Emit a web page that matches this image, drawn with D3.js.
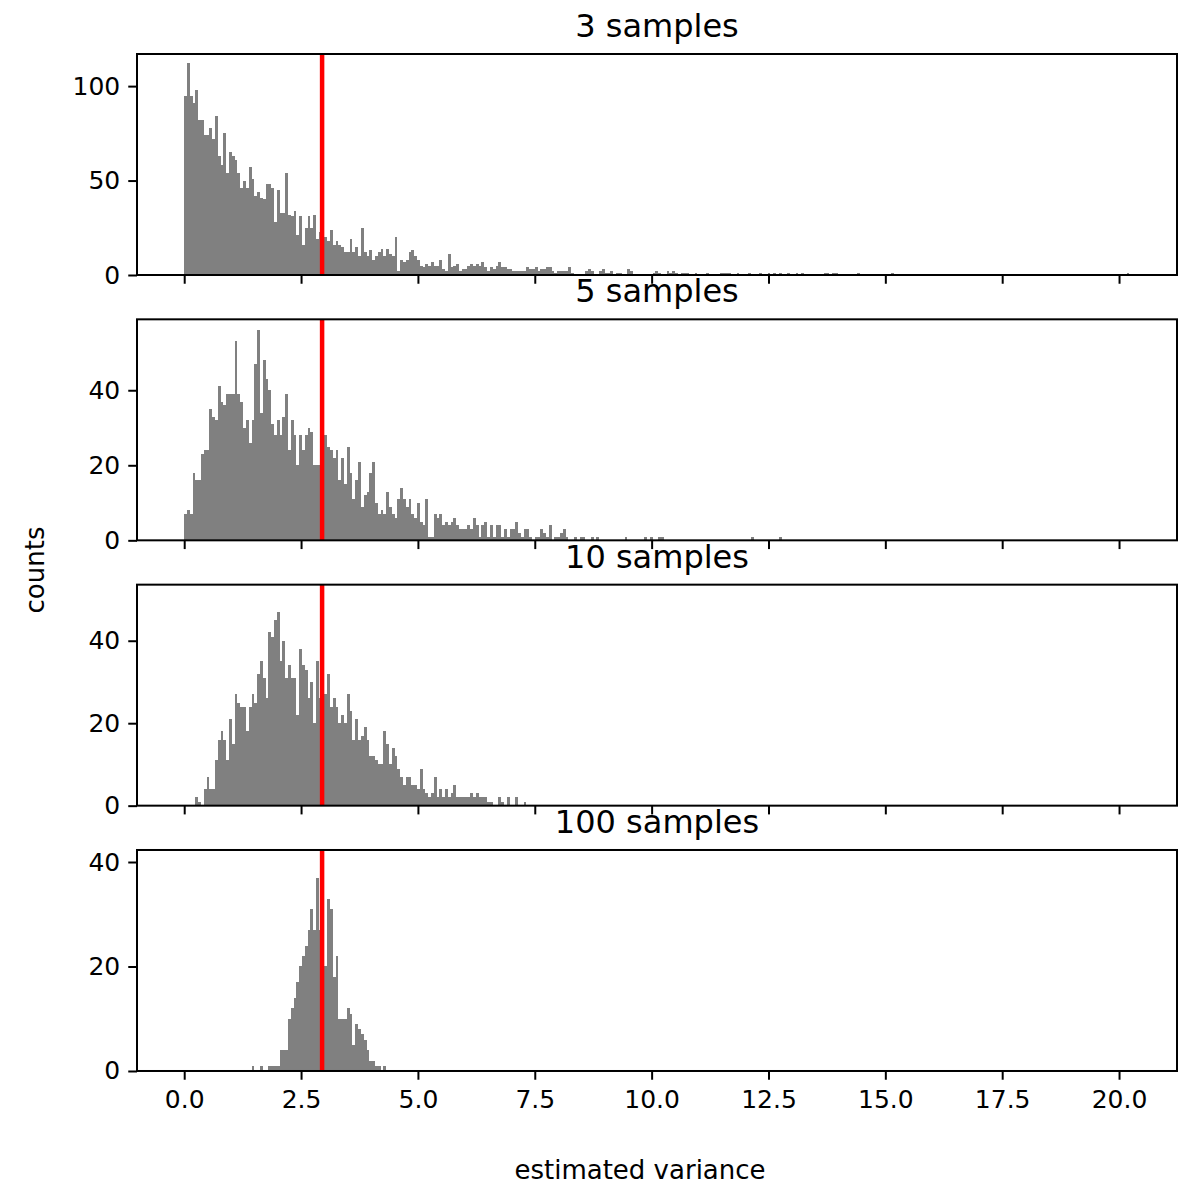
<!DOCTYPE html>
<meta charset="utf-8">
<style>
body {
  margin: 0;
  background-color: #ffffff;
}
text {
  font-family: "DejaVu Sans", sans-serif;
  fill: #000;
}
.tick line {
  stroke: #000;
  stroke-width: 2px;
}
.tick text {
  font-size: 25px;
}
.title {
  font-size: 32px;
}
.label {
  font-size: 26px;
}
</style>
<body>
<script src="https://d3js.org/d3.v7.min.js"></script>
<script>
  // histogram data, all panels share the same bin width
  var binWidth = 0.06;
  var titles = ["3 samples", "5 samples", "10 samples", "100 samples"];
  var firstEdge = [0, 0, 0.24, 1.44];

  var counts3 = [
    95,112,95,91,98,82,82,74,74,78,
    72,84,63,58,75,54,65,63,61,54,
    46,50,46,57,51,42,44,41,40,48,
    48,46,28,45,33,33,54,32,31,34,
    21,31,16,25,31,25,32,19,23,21,
    20,18,24,16,18,16,15,12,12,19,
    12,15,10,25,12,10,13,8,10,12,
    14,10,14,11,10,20,2,8,7,8,
    12,13,10,8,5,4,6,5,7,5,
    5,8,3,2,11,4,5,6,2,3,
    3,5,6,5,6,5,7,4,2,4,
    3,5,7,4,4,3,3,2,2,2,
    2,2,4,3,3,4,2,3,3,4,
    4,2,1,2,2,2,2,4,1,0,
    0,0,0,2,3,2,0,0,2,3,
    1,1,2,0,1,1,0,0,3,2,
    0,0,0,0,0,0,0,1,2,1,
    0,0,2,1,2,1,0,1,1,1,
    0,0,1,0,0,0,1,0,0,0,
    0,1,1,1,1,0,0,1,0,0,
    0,1,0,0,0,1,0,0,1,0,
    1,0,1,0,0,1,0,0,1,0,
    1,0,0,0,0,0,0,0,1,1,
    0,1,1,0,0,0,0,0,0,0,
    1,0,0,0,0,0,0,0,0,0,
    0,0,1,0,0,0,0,0,0,0,
    0,0,0,0,0,0,0,0,0,0,
    0,0,0,0,0,0,0,0,0,0,
    0,0,0,0,0,0,0,0,0,0,
    0,0,0,0,0,0,0,0,0,0,
    0,0,0,0,0,0,0,0,0,0,
    0,0,0,0,0,0,0,0,0,0,
    0,0,0,0,0,0,0,0,0,0,
    0,0,0,0,0,0,1
  ];

  var counts5 = [
    7,8,7,18,16,16,23,24,24,35,
    33,32,41,37,36,39,39,39,53,39,
    37,30,32,26,32,47,56,34,48,43,
    40,31,28,32,28,33,39,24,32,28,
    20,28,24,28,30,29,20,20,20,18,
    28,25,24,22,24,16,22,15,25,18,
    11,16,21,9,12,13,18,21,10,7,
    8,7,13,9,7,6,11,14,11,9,
    11,7,6,10,5,4,11,1,1,7,
    6,7,4,5,4,5,6,4,3,3,
    3,4,3,6,4,1,4,5,1,4,
    1,4,4,1,3,1,3,3,5,2,
    1,3,3,1,0,1,1,3,2,1,
    4,0,1,1,2,3,1,0,0,1,
    0,1,1,0,0,1,0,1,0,0,
    0,0,0,0,0,0,0,1,0,0,
    0,0,0,0,1,0,1,0,0,1,
    1,0,0,0,0,0,0,0,0,0,
    0,0,0,0,0,0,0,0,0,0,
    0,0,0,0,0,0,0,0,0,0,
    0,0,1,0,0,0,0,0,0,0,
    0,0,1
  ];

  var counts10 = [
    2,1,0,4,7,4,
    4,11,16,18,16,11,21,15,27,25,
    24,24,18,24,27,25,32,35,31,26,
    42,41,45,47,35,40,31,34,31,31,
    22,38,34,33,26,30,20,35,26,30,
    27,32,24,26,24,20,22,20,27,23,
    16,21,16,17,19,16,12,12,11,10,
    10,18,15,10,14,12,9,7,5,7,
    7,5,5,4,9,4,3,2,3,7,
    2,4,2,4,2,3,5,2,2,2,
    2,2,3,2,3,2,2,2,1,1,
    0,0,2,1,0,2,0,0,2,0,0,1
  ];

  var counts100 = [
    1,0,0,1,0,0,
    1,1,1,1,4,4,4,10,12,14,
    17,20,22,24,27,31,27,37,27,27,
    20,33,31,18,22,10,10,10,12,11,
    5,9,8,7,6,4,2,2,1,1,
    0,1
  ];

  var yTicks = [[0, 50, 100], [0, 20, 40], [0, 20, 40], [0, 20, 40]];
  var yMax = [117, 58.9, 53.6, 42.3];
  var xTicks = [0, 2.5, 5, 7.5, 10, 12.5, 15, 17.5, 20];
  var xExtent = [-1.01, 21.24];
  var trueVariance = 2.95;

  var chartConfig = {
    width: 1178,
    height: 1187,
    left: 137,
    right: 1177,
    top: 54,
    panelHeight: 221,
    panelStep: 265.33,
    tickSize: 8.75,
    barColor: "#808080",
    lineColor: "#ff0000"
  };

  var allCounts = [counts3, counts5, counts10, counts100];

  var svg = d3.select("body").append("svg")
      .attr("width", chartConfig.width)
      .attr("height", chartConfig.height);

  var x = d3.scaleLinear()
      .domain(xExtent)
      .range([chartConfig.left, chartConfig.right]);

  allCounts.forEach(function(counts, p) {
    var top = chartConfig.top + p * chartConfig.panelStep,
        h = chartConfig.panelHeight,
        last = p == allCounts.length - 1;

    var y = d3.scaleLinear()
        .domain([0, yMax[p]])
        .range([top + h, top]);

    var bins = counts.map(function(c, j) {
      return {x0: firstEdge[p] + j * binWidth, x1: firstEdge[p] + (j + 1) * binWidth, n: c};
    }).filter(function(d) { return d.n > 0; });

    var g = svg.append("g");

    // bars
    g.selectAll(".bar")
        .data(bins)
      .enter().append("rect")
        .attr("class", "bar")
        .attr("x", function(d) { return x(d.x0); })
        .attr("width", function(d) { return x(d.x1) - x(d.x0); })
        .attr("y", function(d) { return y(d.n); })
        .attr("height", function(d) { return y(0) - y(d.n); })
        .attr("fill", chartConfig.barColor)
        .attr("shape-rendering", "crispEdges");

    // reference line
    g.append("line")
        .attr("x1", x(trueVariance))
        .attr("x2", x(trueVariance))
        .attr("y1", top)
        .attr("y2", top + h)
        .attr("stroke", chartConfig.lineColor)
        .attr("stroke-width", 4.5);

    // axes
    var yAxis = g.append("g")
        .attr("transform", "translate(" + chartConfig.left + ",0)")
        .call(d3.axisLeft(y).tickValues(yTicks[p])
              .tickSize(chartConfig.tickSize).tickPadding(8));
    yAxis.select(".domain").remove();

    var xAxis = g.append("g")
        .attr("transform", "translate(0," + (top + h) + ")")
        .call(d3.axisBottom(x).tickValues(xTicks)
              .tickSize(chartConfig.tickSize).tickPadding(11)
              .tickFormat(last ? d3.format(".1f") : ""));
    xAxis.select(".domain").remove();

    // frame
    g.append("rect")
        .attr("x", chartConfig.left)
        .attr("y", top)
        .attr("width", chartConfig.right - chartConfig.left)
        .attr("height", h)
        .attr("fill", "none")
        .attr("stroke", "#000")
        .attr("stroke-width", 2);

    g.append("text")
        .attr("class", "title")
        .attr("x", (chartConfig.left + chartConfig.right) / 2)
        .attr("y", top - 17)
        .attr("text-anchor", "middle")
        .text(titles[p]);
  });

  svg.append("text")
      .attr("class", "label")
      .attr("x", 640)
      .attr("y", 1179)
      .attr("text-anchor", "middle")
      .text("estimated variance");

  svg.append("text")
      .attr("class", "label")
      .attr("transform", "translate(44,570) rotate(-90)")
      .attr("text-anchor", "middle")
      .text("counts");
</script>
</body>
